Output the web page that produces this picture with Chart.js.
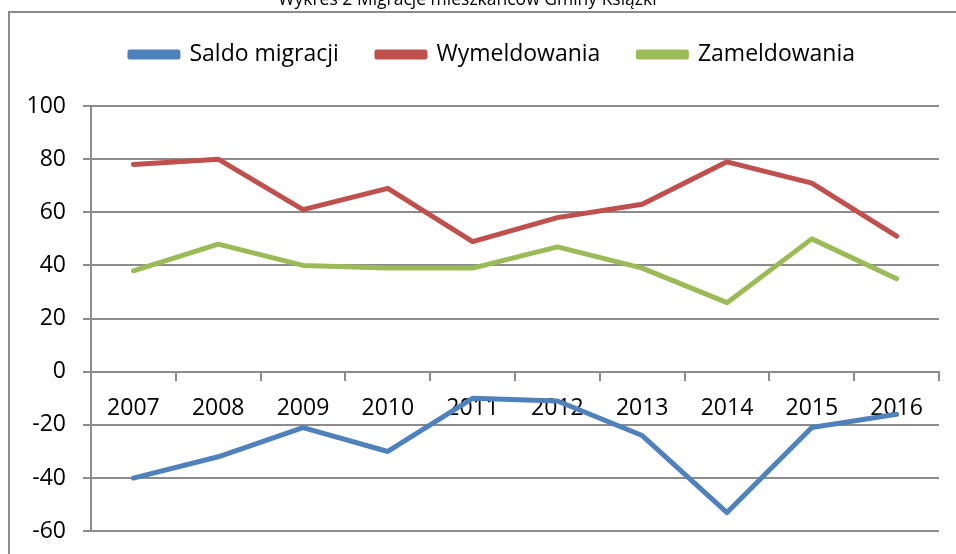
<!DOCTYPE html>
<html>
<head>
<meta charset="utf-8">
<script src="https://cdn.jsdelivr.net/npm/chart.js@4"></script>
<style>
  body { margin: 0; background: #fff; overflow: hidden; }
  #wrap { position: relative; width: 956px; height: 554px; overflow: hidden; }
  #frame { position: absolute; left: 8px; top: 11px; width: 960px; height: 560px;
           border-left: 2px solid #8c8c8c; border-top: 2px solid #8c8c8c; }
  #holder { position: absolute; left: 0; top: -10px; width: 956px; height: 572px; }
</style>
</head>
<body>
<div id="wrap">
  <div id="frame"></div>
  <div id="holder"><canvas id="chart"></canvas></div>
</div>
<script>
const years = ["2007", "2008", "2009", "2010", "2011", "2012", "2013", "2014", "2015", "2016"];
const saldo = [-40, -32, -21, -30, -10, -11, -24, -53, -21, -16];
const wymeldowania = [78, 80, 61, 69, 49, 58, 63, 79, 71, 51];
const zameldowania = [38, 48, 40, 39, 39, 47, 39, 26, 50, 35];

const font = "'Open Sans', 'DejaVu Sans', sans-serif";

function line(label, data, color) {
  return {
    label: label,
    data: data,
    borderColor: color,
    backgroundColor: color,
    borderWidth: 5,
    pointRadius: 0,
    tension: 0,
    borderJoinStyle: "round",
    borderCapStyle: "round"
  };
}

// extra room under the legend, and nudge legend / title sideways
const legendGap = {
  id: "legendGap",
  beforeInit(chart) {
    const fit = chart.legend.fit;
    chart.legend.fit = function () {
      fit.bind(chart.legend)();
      this.height += 30;
    };
  },
  afterLayout(chart) {
    chart.legend.left += 18;
    chart.legend.right += 18;
    chart.titleBlock.left -= 7;
    chart.titleBlock.right -= 7;
  }
};

const ctx = document.getElementById("chart").getContext("2d");
new Chart(ctx, {
  type: "line",
  data: {
    labels: years,
    datasets: [
      line("Saldo migracji", saldo, "#4f81bd"),
      line("Wymeldowania", wymeldowania, "#c0504d"),
      line("Zameldowania", zameldowania, "#9bbb59")
    ]
  },
  options: {
    responsive: true,
    maintainAspectRatio: false,
    animation: false,
    layout: { padding: { left: 10, right: 17, top: 0, bottom: 8 } },
    plugins: {
      title: {
        display: true,
        text: "Wykres 2 Migracje mieszkańców Gminy Książki",
        color: "#000",
        font: { family: font, size: 17.5, weight: "normal" },
        padding: { top: 0, bottom: -6 }
      },
      legend: {
        position: "top",
        labels: {
          color: "#000",
          font: { family: font, size: 23 },
          boxWidth: 48,
          boxHeight: 5,
          padding: 38
        }
      },
      tooltip: { enabled: false }
    },
    scales: {
      x: {
        position: { y: 0 },
        offset: true,
        grid: { display: true, drawOnChartArea: false, offset: true, tickLength: 8, color: "#8c8c8c", lineWidth: 2 },
        border: { display: true, color: "#8c8c8c", width: 2 },
        ticks: { color: "#000", font: { family: font, size: 23 }, padding: 15, maxRotation: 0 }
      },
      y: {
        min: -60,
        max: 100,
        afterFit: (s) => { s.width = 81; },
        grid: { color: "#8c8c8c", lineWidth: 2, tickLength: 8 },
        border: { display: true, color: "#8c8c8c", width: 2 },
        ticks: { stepSize: 20, color: "#000", font: { family: font, size: 23 }, padding: 17 }
      }
    }
  },
  plugins: [legendGap]
});
</script>
</body>
</html>
